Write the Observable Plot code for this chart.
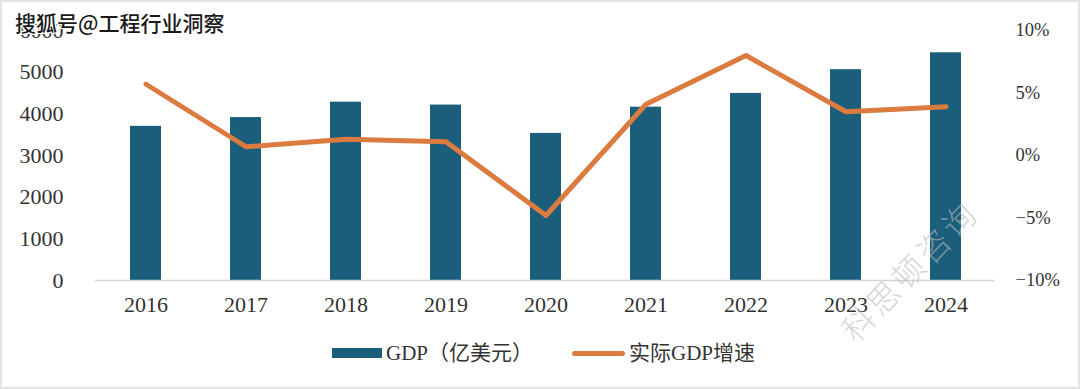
<!DOCTYPE html>
<html>
<head>
<meta charset="utf-8">
<script src="https://cdn.jsdelivr.net/npm/d3@7"></script>
<script src="https://cdn.jsdelivr.net/npm/@observablehq/plot@0.6"></script>
<style>
  html, body { margin: 0; padding: 0; background: #fff; }
  #wrap { position: relative; width: 1080px; height: 389px; overflow: hidden; background: #fff; }
  #frame { position: absolute; left: 0; top: 0; width: 1080px; height: 389px; box-sizing: border-box; border: 2px solid #e4e4e4; pointer-events: none; }
  #chart { position: absolute; left: 0; top: 0; }
  #legend { position: absolute; left: 0; top: 341px; width: 1080px; height: 26px; font-family: "Liberation Serif", "Noto Sans CJK SC", serif; font-size: 21px; color: #333; }
  .sw { position: absolute; }
  .lt { position: absolute; top: 0; line-height: 24px; white-space: nowrap; }
  #wm { position: absolute; left: 15px; top: 7px; font-family: "Noto Sans CJK SC", sans-serif; font-weight: 500; font-size: 21px; color: #1a1a1a; white-space: nowrap;
        text-shadow: 1px 1px 0 #fff, -1px -1px 0 #fff, 1px -1px 0 #fff, -1px 1px 0 #fff, 0 1px 0 #fff, 0 -1px 0 #fff, 1px 0 0 #fff, -1px 0 0 #fff; }
  #wm2 { position: absolute; left: 846px; top: 312px; font-family: "Noto Sans CJK SC", sans-serif; font-weight: 300; font-size: 32px; line-height: 44px; color: rgba(185,185,185,0.6); white-space: nowrap; transform: rotate(-46deg); transform-origin: 0 50%; letter-spacing: 4px; }
</style>
</head>
<body>
<div id="wrap">
  <div id="chart"></div>
  <div id="legend">
    <div class="sw" style="left:332px; top:7px; width:50px; height:10px; background:#1b5e7b;"></div>
    <div class="lt" style="left:386px;">GDP（亿美元）</div>
    <div class="sw" style="left:572px; top:10px; width:53px; height:5px; border-radius:3px; background:#dc7b3f;"></div>
    <div class="lt" style="left:629px;">实际GDP增速</div>
  </div>
  <div id="wm">搜狐号@工程行业洞察</div>
  <div id="wm2">科思顿咨询</div>
  <div id="frame"></div>
</div>
<script>
const years = ["2016", "2017", "2018", "2019", "2020", "2021", "2022", "2023", "2024"];
const gdp = [3700, 3910, 4280, 4210, 3530, 4160, 4490, 5060, 5465];
const growth = [5.7, 0.7, 1.3, 1.1, -4.8, 4.1, 8.0, 3.5, 3.9];
const leftTicks = [0, 1000, 2000, 3000, 4000, 5000, 6000];
const rightTicks = [-10, -5, 0, 5, 10];

const leftMax = 6000, rightMin = -10, rightMax = 10;
const toLeft = p => (p - rightMin) / (rightMax - rightMin) * leftMax;
const fromLeft = v => Math.round(v / leftMax * (rightMax - rightMin) + rightMin);
const data = years.map((y, i) => ({year: y, gdp: gdp[i], growth: growth[i]}));

const chart = Plot.plot({
  width: 1080,
  height: 320,
  marginLeft: 95,
  marginRight: 85,
  marginTop: 30,
  marginBottom: 40,
  style: {fontFamily: "'Liberation Serif', serif", color: "#333", background: "transparent"},
  x: {domain: years, paddingInner: 0.69, paddingOuter: 0.345, label: null},
  y: {domain: [0, leftMax], label: null},
  marks: [
    Plot.barY(data, {x: "year", y: "gdp", fill: "#1b5e7b"}),
    Plot.ruleY([0], {stroke: "#d6d6d6", strokeWidth: 1.5}),
    Plot.lineY(data, {x: "year", y: d => toLeft(d.growth), stroke: "#dc7b3f", strokeWidth: 5, strokeLinecap: "round", strokeLinejoin: "round"}),
    Plot.axisX({tickSize: 0, tickPadding: 16, fontSize: 22, label: null}),
    Plot.axisY(leftTicks, {anchor: "left", tickSize: 0, tickPadding: 32, fontSize: 22, label: null, tickFormat: d => String(d)}),
    Plot.axisY(rightTicks.map(toLeft), {anchor: "right", tickSize: 0, tickPadding: 20, fontSize: 18.5, label: null,
      tickFormat: v => { const p = fromLeft(v); return (p < 0 ? "\u2212" + Math.abs(p) : String(p)) + "%"; }})
  ]
});
document.getElementById("chart").appendChild(chart);
</script>
</body>
</html>
